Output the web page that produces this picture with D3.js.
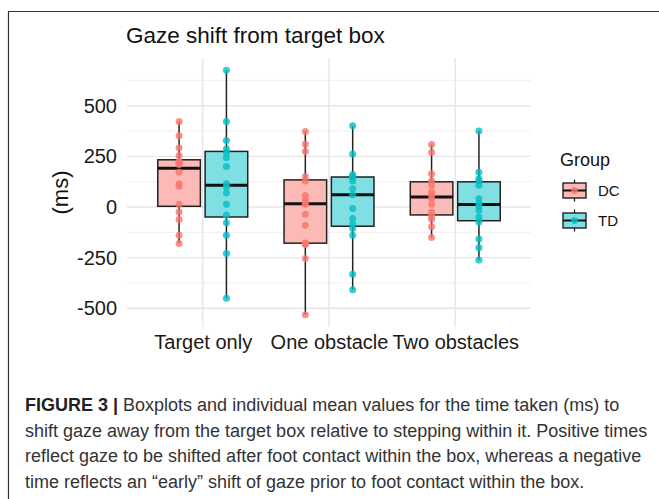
<!DOCTYPE html>
<html>
<head>
<meta charset="utf-8">
<script src="https://cdn.jsdelivr.net/npm/d3@7"></script>
<style>
  body { margin: 0; background: #fff; }
  svg { display: block; font-family: "Liberation Sans", Arial, sans-serif; }
</style>
</head>
<body>
<svg id="chart" width="659" height="499"></svg>
<script>
// categories and groups
let categories = ["Target only", "One obstacle", "Two obstacles"];
let groups = ["DC", "TD"];
let yTicks = [-500, -250, 0, 250, 500];

// individual mean values (ms)
let dcTarget = [-180, -139, -62, -25, 13, 102, 115, 172, 210, 218, 222, 226, 254, 292, 352, 422];
let tdTarget = [-450, -229, -139, -78, -40, 13, 69, 100, 115, 200, 243, 270, 287, 328, 422, 675];
let dcOne = [-532, -254, -185, -180, -178, -90, -36, 13, 20, 33, 57, 128, 151, 274, 311, 373];
let tdOne = [-409, -332, -139, -106, -84, -57, -8, 61, 90, 128, 145, 151, 160, 262, 401];
let dcTwo = [-150, -98, -60, -44, -25, 13, 41, 57, 74, 107, 130, 164, 270, 308];
let tdTwo = [-262, -201, -158, -74, -49, -16, 5, 19, 41, 107, 130, 139, 172, 375];

let captionLines = [
    "Boxplots and individual mean values for the time taken (ms) to",
    "shift gaze away from the target box relative to stepping within it. Positive times",
    "reflect gaze to be shifted after foot contact within the box, whereas a negative",
    "time reflects an \u201cearly\u201d shift of gaze prior to foot contact within the box."
];

let colors = { DC: "#F8766D", TD: "#00BFC4" };
let fills = { DC: "#FBBAB6", TD: "#80DFE2" };

let data = [
    { cat: categories[0], group: "DC", values: dcTarget },
    { cat: categories[0], group: "TD", values: tdTarget },
    { cat: categories[1], group: "DC", values: dcOne },
    { cat: categories[1], group: "TD", values: tdOne },
    { cat: categories[2], group: "DC", values: dcTwo },
    { cat: categories[2], group: "TD", values: tdTwo }
];

let panel = { left: 127, right: 531, top: 58, bottom: 327 };

let svg = d3.select("#chart");

// frame around the figure
svg.append("path")
    .attr("d", "M8.5,499 L8.5,11.5 L659,11.5")
    .attr("fill", "none")
    .attr("stroke", "#333")
    .attr("stroke-width", 1.2);

// scales
let x = d3.scalePoint()
    .domain(categories)
    .range([panel.left, panel.right])
    .padding(0.6);

let step = x.step();
let xg = d3.scaleBand()
    .domain(groups)
    .range([-step * 0.375, step * 0.375]);
let boxW = xg.bandwidth() * 0.9;

let allVals = data.flatMap(d => d.values);
let lo = d3.min(allVals), hi = d3.max(allVals);
let pad = (hi - lo) * 0.05;
let y = d3.scaleLinear()
    .domain([lo - pad, hi + pad])
    .range([panel.bottom, panel.top]);

// grid
let grid = svg.append("g");
let minorTicks = d3.range(-625, 751, 250).filter(v => v > y.domain()[0] && v < y.domain()[1]);
grid.selectAll(".minor").data(minorTicks).enter().append("line")
    .attr("x1", panel.left).attr("x2", panel.right)
    .attr("y1", d => y(d)).attr("y2", d => y(d))
    .attr("stroke", "#efefef").attr("stroke-width", 1);
grid.selectAll(".major").data(yTicks).enter().append("line")
    .attr("x1", panel.left).attr("x2", panel.right)
    .attr("y1", d => y(d)).attr("y2", d => y(d))
    .attr("stroke", "#e6e6e6").attr("stroke-width", 1.4);
grid.selectAll(".vmajor").data(categories).enter().append("line")
    .attr("x1", d => x(d)).attr("x2", d => x(d))
    .attr("y1", panel.top).attr("y2", panel.bottom)
    .attr("stroke", "#e6e6e6").attr("stroke-width", 1.4);

// axes
let yAxis = svg.append("g")
    .attr("transform", `translate(${panel.left - 6},0)`)
    .call(d3.axisLeft(y).tickValues(yTicks).tickSize(0).tickPadding(4).tickFormat(d => String(d)));
yAxis.select(".domain").remove();
yAxis.selectAll("text")
    .attr("font-family", "Liberation Sans, Arial, sans-serif")
    .attr("font-size", 20).attr("fill", "#1a1a1a");

let xAxis = svg.append("g")
    .attr("transform", `translate(0,${panel.bottom + 4})`)
    .call(d3.axisBottom(x).tickSize(0).tickPadding(4));
xAxis.select(".domain").remove();
xAxis.selectAll("text")
    .attr("font-family", "Liberation Sans, Arial, sans-serif")
    .attr("font-size", 20).attr("fill", "#1a1a1a");

// titles
svg.append("text")
    .attr("x", 126).attr("y", 43)
    .attr("font-size", 22.5).attr("fill", "#111")
    .text("Gaze shift from target box");

svg.append("text")
    .attr("transform", `translate(68, ${(panel.top + panel.bottom) / 2}) rotate(-90)`)
    .attr("text-anchor", "middle")
    .attr("font-size", 22).attr("fill", "#111")
    .text("(ms)");

// boxplots
function stats(vals) {
    let s = vals.slice().sort(d3.ascending);
    let q1 = d3.quantile(s, 0.25), med = d3.quantile(s, 0.5), q3 = d3.quantile(s, 0.75);
    let iqr = q3 - q1;
    let wlo = d3.min(s.filter(v => v >= q1 - 1.5 * iqr));
    let whi = d3.max(s.filter(v => v <= q3 + 1.5 * iqr));
    return { q1, med, q3, wlo, whi };
}

let boxes = svg.append("g").selectAll("g").data(data).enter().append("g")
    .attr("transform", d => `translate(${x(d.cat) + xg(d.group) + xg.bandwidth() / 2},0)`);

boxes.each(function(d) {
    let st = stats(d.values);
    let g = d3.select(this);
    g.append("line")
        .attr("x1", 0).attr("x2", 0)
        .attr("y1", y(st.whi)).attr("y2", y(st.q3))
        .attr("stroke", "#222").attr("stroke-width", 1.5);
    g.append("line")
        .attr("x1", 0).attr("x2", 0)
        .attr("y1", y(st.q1)).attr("y2", y(st.wlo))
        .attr("stroke", "#222").attr("stroke-width", 1.5);
    g.append("rect")
        .attr("x", -boxW / 2).attr("width", boxW)
        .attr("y", y(st.q3)).attr("height", y(st.q1) - y(st.q3))
        .attr("fill", fills[d.group])
        .attr("stroke", "#222").attr("stroke-width", 1.5);
    g.append("line")
        .attr("x1", -boxW / 2).attr("x2", boxW / 2)
        .attr("y1", y(st.med)).attr("y2", y(st.med))
        .attr("stroke", "#111").attr("stroke-width", 3);
    g.selectAll("circle").data(d.values).enter().append("circle")
        .attr("cx", 0).attr("cy", v => y(v))
        .attr("r", 3.5)
        .attr("fill", colors[d.group])
        .attr("fill-opacity", 0.8);
});

// legend
let legend = svg.append("g");
legend.append("text")
    .attr("x", 560).attr("y", 166)
    .attr("font-size", 18).attr("fill", "#111")
    .text("Group");

let keys = legend.selectAll(".key").data(groups).enter().append("g")
    .attr("transform", (d, i) => `translate(574.5, ${190.5 + i * 30})`);
keys.append("line")
    .attr("x1", 0).attr("x2", 0).attr("y1", -11).attr("y2", 11)
    .attr("stroke", "#222").attr("stroke-width", 1.3);
keys.append("rect")
    .attr("x", -11.5).attr("y", -7.5).attr("width", 23).attr("height", 15)
    .attr("fill", d => fills[d]).attr("stroke", "#222").attr("stroke-width", 1.4);
keys.append("line")
    .attr("x1", -11.5).attr("x2", 11.5).attr("y1", 0).attr("y2", 0)
    .attr("stroke", "#111").attr("stroke-width", 2);
keys.append("circle")
    .attr("r", 3.4).attr("fill", d => colors[d]).attr("fill-opacity", 0.8);
keys.append("text")
    .attr("x", 23.5).attr("y", 5.5)
    .attr("font-size", 15).attr("fill", "#111")
    .text(d => d);

// caption
let cap = svg.append("g").attr("font-size", 18).attr("fill", "#333");
let first = cap.append("text").attr("x", 25).attr("y", 411);
first.append("tspan").attr("font-weight", "bold").attr("fill", "#222").text("FIGURE 3 | ");
first.append("tspan").text(captionLines[0]);
cap.selectAll(".line").data(captionLines.slice(1)).enter().append("text")
    .attr("x", 25)
    .attr("y", (d, i) => 436.5 + i * 25.5)
    .text(d => d);
</script>
</body>
</html>
